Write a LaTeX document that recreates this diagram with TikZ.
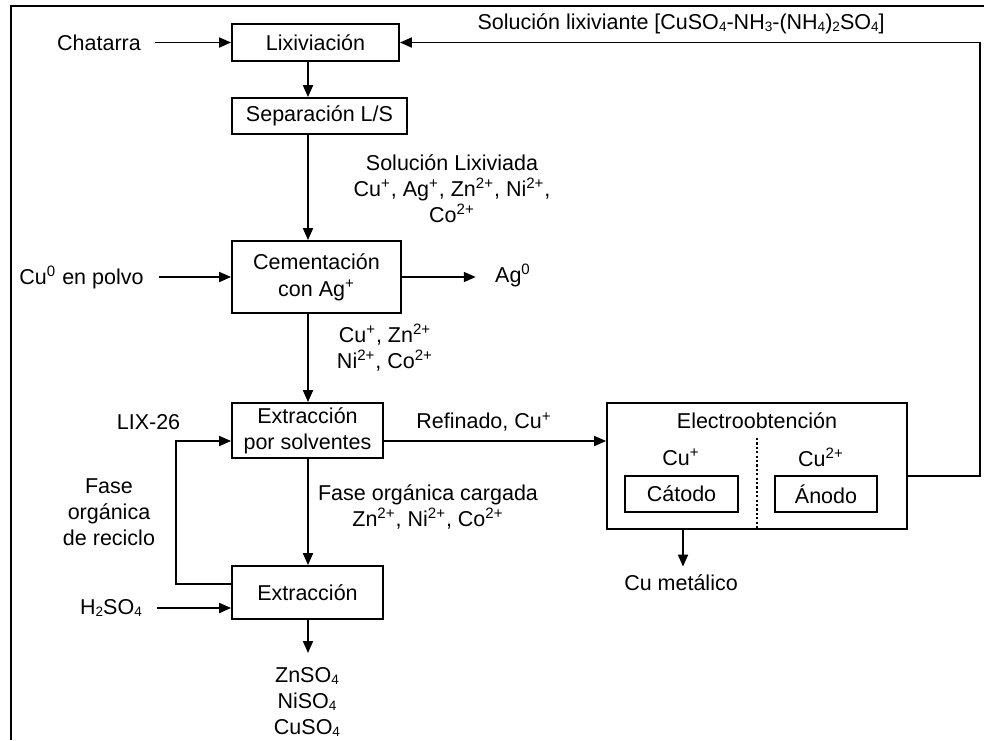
\documentclass[tikz,border=0pt]{standalone}
\usepackage{fontspec}
\setmainfont{Liberation Sans}
\usetikzlibrary{arrows.meta}
\newcommand{\sbs}[1]{\raisebox{-0.7pt}{\fontsize{6.8pt}{7pt}\selectfont #1}}
\begin{document}
\begin{tikzpicture}[x=0.5pt,y=-0.5pt,
  every node/.style={font=\fontsize{10.75pt}{13pt}\selectfont},
  box/.style={draw, line width=0.9pt, inner sep=0pt, align=center},
  lbl/.style={inner sep=0pt, align=center},
  arr/.style={-{Triangle[length=6pt,width=5pt]}, line width=0.9pt},
  ln/.style={line width=0.9pt},
  frame/.style={line width=1.4pt},
  sep line/.style={line width=1.1pt, dash pattern=on 1.1pt off 1.1pt}]
\useasboundingbox (0,0) rectangle (984,740);
% frame
\coordinate (fa) at (11,740);
\coordinate (fb) at (11,6);
\coordinate (fc) at (984,6);
\draw[frame] (fa) -- (fb) -- (fc);

% boxes
\node[box, minimum width=83.5pt, minimum height=18.5pt] (lix) at (315.5,42.5) {Lixiviación};
\node[box, minimum width=87.5pt, minimum height=18pt] (sep) at (319.5,116) {Separación L/S};
\node[box, minimum width=84.5pt, minimum height=36pt] (cem) at (316.5,277) {Cementación\\[0.5pt]con Ag\textsuperscript{+}};
\node[box, minimum width=75.5pt, minimum height=27.5pt] (exs) at (307.5,430.5) {Extracción\\por solventes};
\node[box, minimum width=75.5pt, minimum height=26.5pt] (ext) at (307.5,592.5) {Extracción};
\node[box, minimum width=150pt, minimum height=63pt] (elec) at (757,466) {};
\node[lbl] (elect) at (757,421) {Electroobtención};
\node[box, minimum width=56.5pt, minimum height=18pt] (cat) at (681.5,494) {Cátodo};
\node[box, minimum width=51pt, minimum height=18pt] (ano) at (826,494) {Ánodo};
\node[lbl] (cup) at (681,457) {Cu\textsuperscript{+}};
\node[lbl] (cu2) at (821,457) {Cu\textsuperscript{2+}};
\coordinate (dtop) at (757,438);
\draw[sep line] (dtop) -- (dtop |- elec.south);

% labels
\node[lbl] (chat) at (99,42.5) {Chatarra};
\node[lbl, anchor=east] (sollix) at (885,24) {Solución lixiviante [CuSO\sbs{4}-NH\sbs{3}-(NH\sbs{4})\sbs{2}SO\sbs{4}]};
\node[lbl] (solx) at (452,189) {Solución Lixiviada\\Cu\textsuperscript{+}, Ag\textsuperscript{+}, Zn\textsuperscript{2+}, Ni\textsuperscript{2+},\\Co\textsuperscript{2+}};
\node[lbl] (cu0) at (81.5,277) {Cu\textsuperscript{0} en polvo};
\node[lbl] (ag0) at (513,275) {Ag\textsuperscript{0}};
\node[lbl] (ions1) at (385,348) {Cu\textsuperscript{+}, Zn\textsuperscript{2+}\\Ni\textsuperscript{2+}, Co\textsuperscript{2+}};
\node[lbl] (lix26) at (148.5,422) {LIX-26};
\node[lbl] (ref) at (484,422) {Refinado, Cu\textsuperscript{+}};
\node[lbl] (fase) at (109,512) {Fase\\orgánica\\de reciclo};
\node[lbl] (fcarg) at (428,507) {Fase orgánica cargada\\Zn\textsuperscript{2+}, Ni\textsuperscript{2+}, Co\textsuperscript{2+}};
\node[lbl] (h2) at (111,608) {H\sbs{2}SO\sbs{4}};
\node[lbl] (prod) at (307,702) {ZnSO\sbs{4}\\NiSO\sbs{4}\\CuSO\sbs{4}};
\node[lbl] (cum) at (681,583) {Cu metálico};

% coordinates for connectors
\coordinate (mx) at (308,0);
\coordinate (pend) at (308,653);
\coordinate (rx) at (176,0);
\coordinate (ry1) at (0,584);
\coordinate (ry2) at (0,441);
\coordinate (hy) at (157,608);
\coordinate (rety) at (0,476);
\coordinate (rr) at (980,0);
\coordinate (cmx) at (683,0);

% main flow
\draw[arr] (lix.south -| mx) -- (sep.north -| mx);
\draw[arr] (sep.south -| mx) -- (cem.north -| mx);
\draw[arr] (cem.south -| mx) -- (exs.north -| mx);
\draw[arr] (exs.south -| mx) -- (ext.north -| mx);
\draw[arr] (ext.south -| mx) -- (pend);

% side inputs / outputs
\draw[arr, shorten <=7pt] (chat.east) -- (lix.west);
\draw[arr, shorten <=7.5pt] (cu0.east |- cem.west) -- (cem.west);
\draw[arr, shorten >=9.5pt] (cem.east) -- (cem.east -| ag0.west);
\draw[arr] (hy) -- (hy -| ext.west);
\draw[arr] (exs.east |- ry2) -- (elec.west |- ry2);
\draw[arr] (elec.south -| cmx) -- ([yshift=4pt]cum.north -| cmx);

% recycle of organic phase
\draw[arr] (ext.west |- ry1) -- (rx |- ry1) -- (rx |- ry2) -- (exs.west |- ry2);

% return of leaching solution
\draw[arr] (elec.east |- rety) -- (rr |- rety) -- (rr |- lix.east) -- (lix.east);
\end{tikzpicture}
\end{document}
